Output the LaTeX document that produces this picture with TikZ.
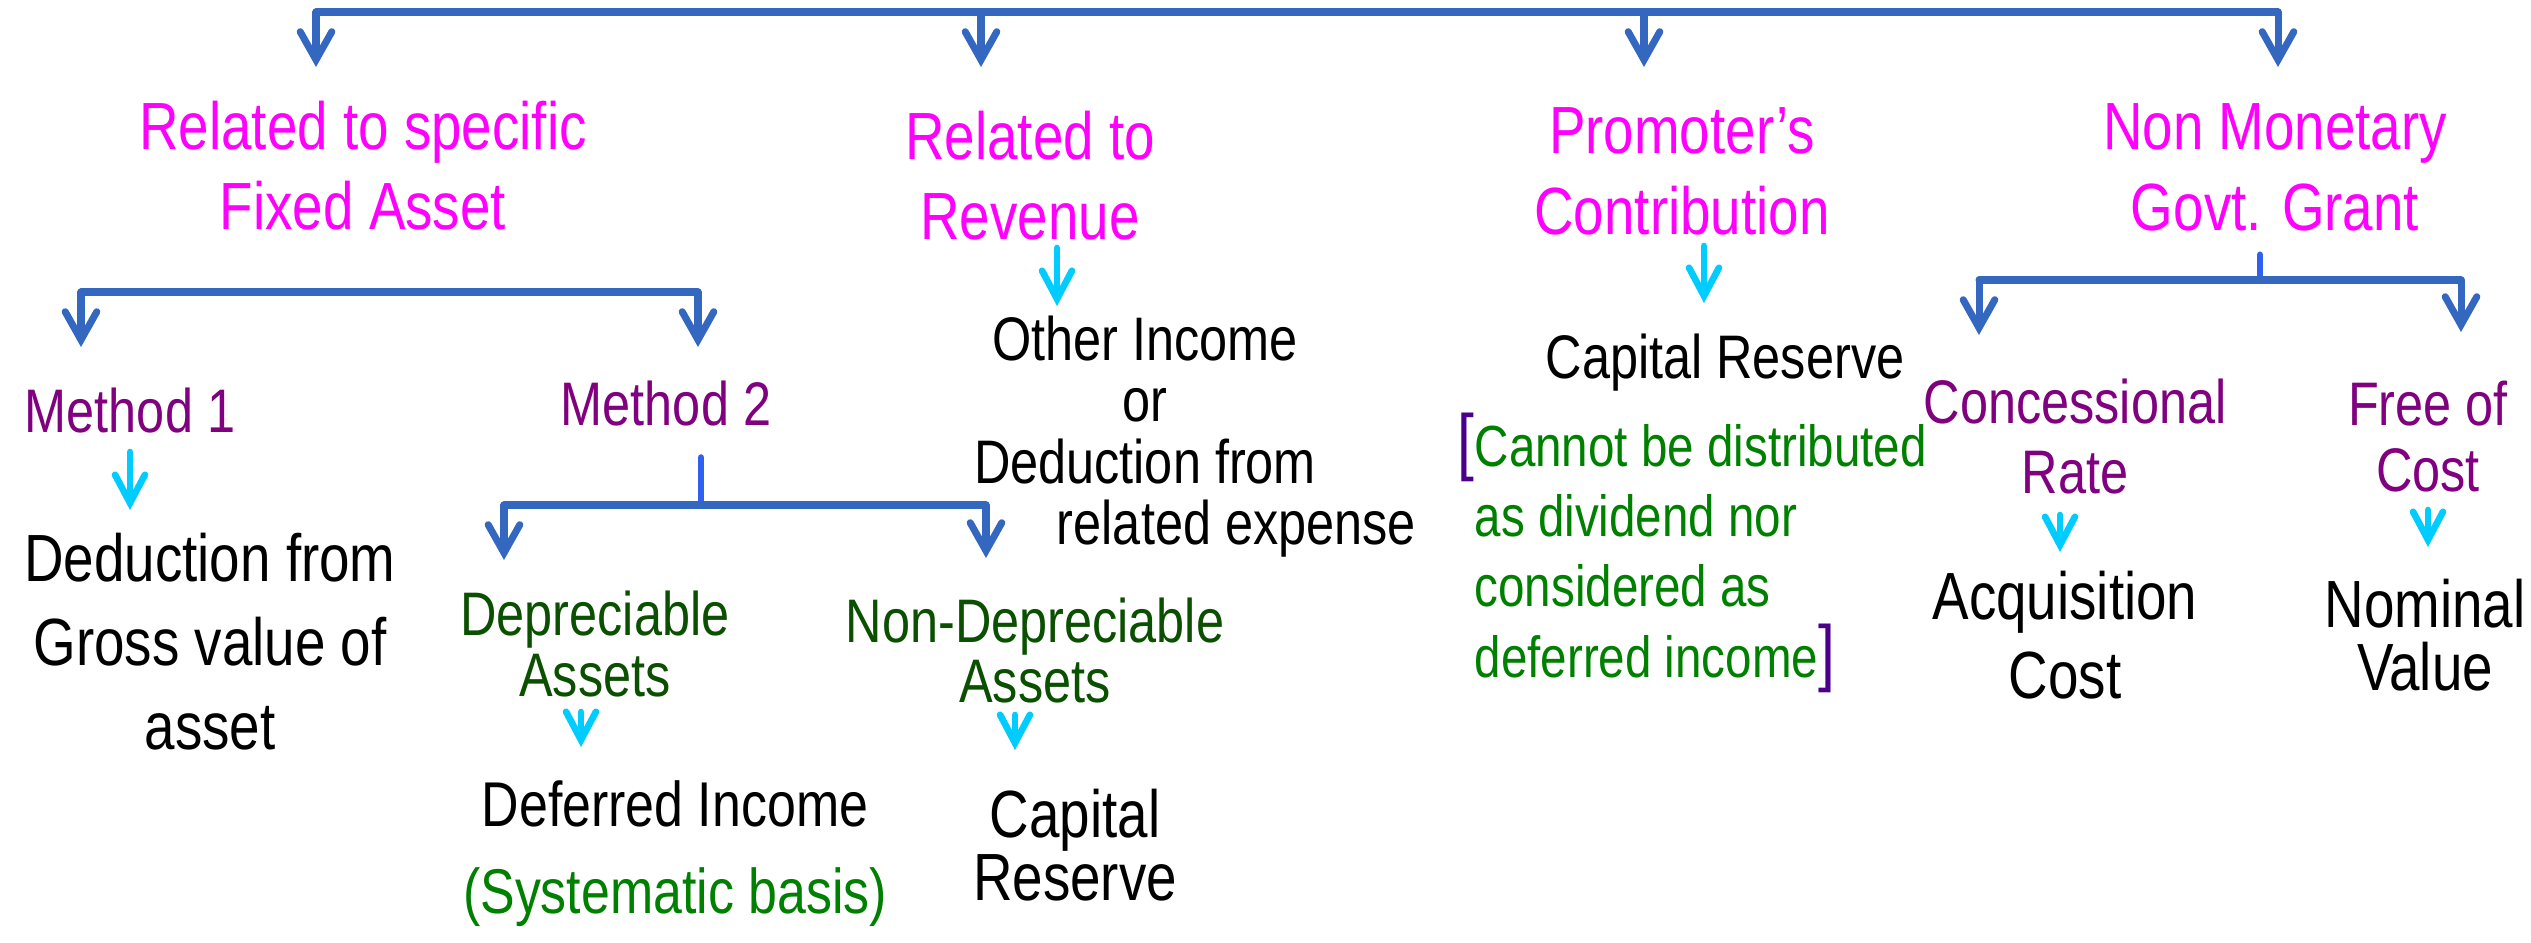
\documentclass[tikz,border=0pt]{standalone}
\usepackage{fontspec}
\setmainfont{Liberation Sans}[FakeStretch=0.82]
\usetikzlibrary{arrows.meta,positioning}

\definecolor{treeblue}{RGB}{52,103,191}
\definecolor{stemblue}{RGB}{48,96,240}
\definecolor{hintcyan}{RGB}{0,204,255}
\definecolor{headpink}{RGB}{255,0,255}
\definecolor{subpurple}{RGB}{128,0,128}
\definecolor{kindgreen}{RGB}{10,80,0}
\definecolor{notegreen}{RGB}{0,128,0}
\definecolor{brackviolet}{RGB}{75,0,140}

\newcommand{\brk}[1]{\textcolor{brackviolet}{\fontsize{21}{20}\selectfont #1}}

\begin{document}
\begin{tikzpicture}[x=0.1mm,y=-0.1mm,
  every node/.style={inner sep=0pt,anchor=north,align=center},
  head/.style={text=headpink,font=\fontsize{19}{23}\selectfont},
  sub/.style={text=subpurple,font=\fontsize{17.5}{20}\selectfont},
  kind/.style={text=kindgreen,font=\fontsize{17.5}{17.5}\selectfont},
  res/.style={font=\fontsize{19}{24}\selectfont},
  note/.style={text=notegreen,font=\fontsize{16.5}{20}\selectfont},
  bar/.style={treeblue,line width=2pt,line cap=round},
  stem/.style={stemblue,line width=1.9pt,line cap=round},
  down/.style={treeblue,line width=2pt,line cap=round,
    -{Straight Barb[length=8pt,width=9pt,line cap=round]}},
  hint/.style={hintcyan,line width=1.9pt,line cap=round,
    -{Straight Barb[length=8pt,width=8.5pt,line cap=round]}}]
\fill[white] (0,0) rectangle (2531,943);
\useasboundingbox (0,0) rectangle (2531,943);

% grant types
\node[head] (spec) at (363,100) {Related to specific\\Fixed Asset};
\node[head] (rev) at (1030,110) {Related to\\Revenue};
\node[head] (prom) at (1682,107) {Promoter's\\Contribution};
\node[head] (nonmon) at (2275,103) {Non Monetary\\Govt. Grant};

% second level
\node[sub] (m1) at (130,387) {Method 1};
\node[sub] (m2) at (666,380) {Method 2};
\node[res,font=\fontsize{17.5}{17.5}\selectfont] (other) at (1145,315)
  {Other Income\\or\\Deduction from\\\hspace*{52pt}related expense};
\node[res,font=\fontsize{17.5}{20}\selectfont] (capres) at (1725,333) {Capital Reserve};
\node[note,anchor=north west,align=left] (nocap) at (1474,412)
  {\llap{\brk{[}}Cannot be distributed\\as dividend nor\\considered as\\deferred income\brk{]}};
\node[sub] (conc) at (2075,378) {Concessional\\Rate};
\node[sub,font=\fontsize{17.5}{19}\selectfont] (free) at (2428,380) {Free of\\Cost};

% third level
\node[res] (dedfrom) at (210,532) {Deduction from\\Gross value of\\asset};
\node[kind] (dep) at (595,590) {Depreciable\\Assets};
\node[kind,font=\fontsize{17.5}{17}\selectfont] (nondep) at (1035,597) {Non-Depreciable\\Assets};
\node[res,font=\fontsize{19}{22.7}\selectfont] (acq) at (2065,570) {Acquisition\\Cost};
\node[res,font=\fontsize{19}{18}\selectfont] (nominal) at (2425,578) {Nominal\\Value};
\node[res,font=\fontsize{18}{24.7}\selectfont] (deferred) at (675,780)
  {Deferred Income\\\textcolor{notegreen}{(Systematic basis)}};
\node[res,font=\fontsize{19}{18}\selectfont] (capres2) at (1075,788) {Capital\\Reserve};

% top bracket
\coordinate (b1) at (316,12);
\coordinate (b2) at (981,12);
\coordinate (b3) at (1644,12);
\coordinate (b4) at (2278,12);
\draw[bar] (b1) -- (b4);
\draw[down,shorten >=0.33cm] (b1) -- (b1 |- spec.north);
\draw[down,shorten >=0.43cm] (b2) -- (b2 |- rev.north);
\draw[down,shorten >=0.40cm] (b3) -- (b3 |- prom.north);
\draw[down,shorten >=0.36cm] (b4) -- (b4 |- nonmon.north);

% fixed asset methods
\coordinate (s1) at (81,292);
\coordinate (s2) at (698,292);
\draw[bar] (s1) -- (s2);
\draw[down,shorten >=0.40cm] (s1) -- (s1 |- m1.north);
\draw[down,shorten >=0.33cm] (s2) -- (s2 |- m2.north);

% method 2 split
\coordinate (f0) at (701,505);
\coordinate (f1) at (504,505);
\coordinate (f2) at (986,505);
\draw[stem,shorten <=0.31cm] (f0 |- m2.south) -- (f0);
\draw[bar] (f1) -- (f2);
\draw[down,shorten >=0.30cm] (f1) -- (f1 |- dep.north);
\draw[down,shorten >=0.39cm] (f2) -- (f2 |- nondep.north);

% non monetary split
\coordinate (g0) at (2260,280);
\coordinate (g1) at (1979,280);
\coordinate (g2) at (2461,280);
\draw[stem,shorten <=0.23cm] (g0 |- nonmon.south) -- (g0);
\draw[bar] (g1) -- (g2);
\draw[down,shorten >=0.43cm] (g1) -- (g1 |- conc.north);
\draw[down,shorten >=0.48cm] (g2) -- (g2 |- free.north);

% treatment arrows
\coordinate (h1) at (1057,248);
\coordinate (h2) at (1704,246);
\coordinate (h3) at (130,452);
\coordinate (h4) at (581,712);
\coordinate (h5) at (1015,715);
\coordinate (h6) at (2060,515);
\coordinate (h7) at (2428,510);
\draw[hint,shorten >=0.09cm] (h1) -- (h1 |- other.north);
\draw[hint,shorten >=0.30cm] (h2) -- (h2 |- capres.north);
\draw[hint,shorten >=0.22cm] (h3) -- (h3 |- dedfrom.north);
\draw[hint,shorten >=0.33cm] (h4) -- (h4 |- deferred.north);
\draw[hint,shorten >=0.38cm] (h5) -- (h5 |- capres2.north);
\draw[hint,shorten >=0.18cm] (h6) -- (h6 |- acq.north);
\draw[hint,shorten >=0.31cm] (h7) -- (h7 |- nominal.north);
\end{tikzpicture}
\end{document}
